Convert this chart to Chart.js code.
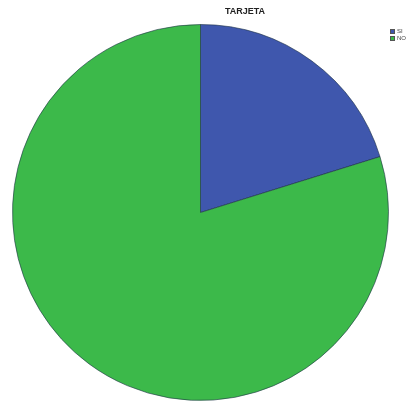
<!DOCTYPE html>
<html><head><meta charset="utf-8">
<script src="https://cdn.jsdelivr.net/npm/chart.js@4/dist/chart.umd.min.js"></script>
<style>
html,body{margin:0;padding:0;background:#fff;}
#wrap{position:relative;width:412px;height:404px;}
#title{position:absolute;left:215px;top:6px;width:60px;text-align:center;font:bold 9px "Liberation Sans",Arial,sans-serif;color:#222;}
#legend{position:absolute;left:390px;top:28px;font:6px "Liberation Sans",Arial,sans-serif;color:#444;}
#legend div{height:7px;line-height:7px;white-space:nowrap;}
#legend span{display:inline-block;width:5px;height:5px;margin-right:2px;vertical-align:middle;border:0.5px solid #555;box-sizing:border-box;}
</style></head>
<body><div id="wrap"><canvas id="c" width="412" height="404"></canvas>
<div id="title"></div><div id="legend"></div></div>
<script>
const categories = ["SI", "NO"];
const values = [20.2, 79.8];
const colors = ["#3f57ad", "#3cb94a"];
const titleText = "TARJETA";

document.getElementById('title').textContent = titleText;
const lg = document.getElementById('legend');
categories.forEach((c,i)=>{
  const d=document.createElement('div');
  const s=document.createElement('span'); s.style.background=colors[i];
  d.appendChild(s); d.appendChild(document.createTextNode(c)); lg.appendChild(d);
});

new Chart(document.getElementById('c'), {
  type: 'pie',
  data: { labels: categories, datasets: [{ data: values, backgroundColor: colors, borderColor: 'rgba(30,50,70,0.6)', borderWidth: 1 }] },
  options: {
    responsive: false, animation: false,
    layout: { padding: { left: 12, right: 23, top: 24, bottom: 3 } },
    plugins: { legend: { display: false }, title: { display: false }, tooltip: { enabled: false } }
  }
});
</script></body></html>
